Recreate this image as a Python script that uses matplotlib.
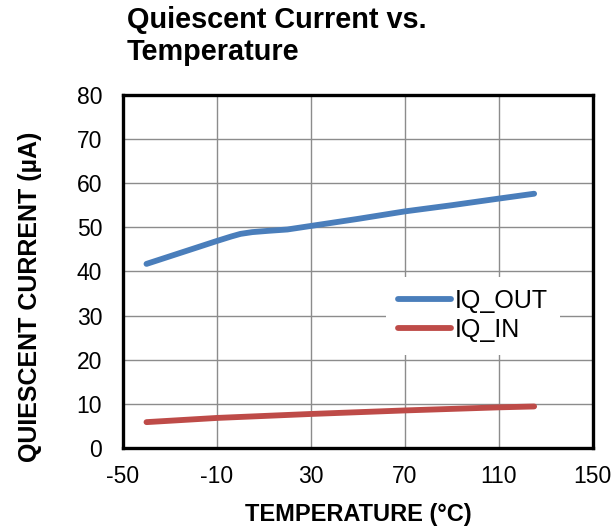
import numpy as np
import matplotlib.pyplot as plt

plt.rcParams['font.family'] = ['Liberation Sans', 'DejaVu Sans']
plt.rcParams['axes.unicode_minus'] = False

# temperatures (°C) and currents (µA)
temp_out = [-40, -25, -10, -4, 0, 5, 12, 20, 30, 50, 70, 90, 110, 125]
iq_out = [41.7, 44.3, 46.9, 47.9, 48.5, 48.9, 49.2, 49.5, 50.3, 51.9, 53.6, 55.0, 56.5, 57.6]
temp_in = [-40, -10, 30, 70, 110, 125]
iq_in = [5.85, 6.8, 7.7, 8.5, 9.2, 9.4]

xticks = [-50, -10, 30, 70, 110, 150]
yticks = [0, 10, 20, 30, 40, 50, 60, 70, 80]

fig = plt.figure(figsize=(6.15, 5.27), dpi=100)
ax = fig.add_axes([0.2, 0.15, 0.764, 0.67])

ax.plot(temp_out, iq_out, color='#4a7ebb', lw=4.2, solid_capstyle='round',
        solid_joinstyle='round', label='IQ_OUT', zorder=3)
ax.plot(temp_in, iq_in, color='#be4b48', lw=4.2, solid_capstyle='round',
        solid_joinstyle='round', label='IQ_IN', zorder=3)

ax.set_xlim(-50, 150)
ax.set_ylim(0, 80)
ax.set_xticks(xticks)
ax.set_yticks(yticks)
ax.grid(True, color='#8c8c8c', lw=1.0)
ax.set_axisbelow(True)
ax.tick_params(length=0, labelsize=16.5)
ax.tick_params(axis='x', pad=12)
ax.tick_params(axis='y', pad=15)
for s in ax.spines.values():
    s.set_linewidth(2.4)
    s.set_color('black')

ax.set_xlabel('TEMPERATURE (°C)', fontsize=17, fontweight='bold', labelpad=11)
ax.set_ylabel('QUIESCENT CURRENT (µA)', fontsize=18, fontweight='bold', va='center')
ax.yaxis.set_label_coords((30 - 123) / 470, (448 - 297) / 353)

fig.text(0.2065, 1 - 28 / 527, 'Quiescent Current vs.', fontsize=20.8,
         fontweight='bold', ha='left', va='baseline')
fig.text(0.2065, 1 - 60 / 527, 'Temperature', fontsize=20.8,
         fontweight='bold', ha='left', va='baseline')

leg = ax.legend(loc='center', bbox_to_anchor=(0.745, 0.375), fontsize=18,
                handlelength=2.1, handletextpad=0.15, labelspacing=0.2,
                frameon=True, fancybox=False, borderpad=0.5)
leg.get_frame().set_facecolor('white')
leg.get_frame().set_edgecolor('none')
leg.get_frame().set_alpha(1.0)

fig.savefig('out.png', dpi=100)
